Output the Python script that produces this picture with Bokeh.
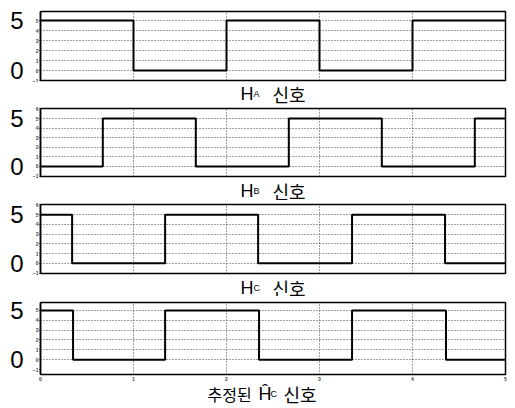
from bokeh.plotting import figure
from bokeh.layouts import column
from bokeh.models import LinearAxis, FixedTicker, Label, Range1d
from bokeh.embed import file_html
from bokeh.resources import INLINE

# ---- data ----
x_ticks = [0, 1, 2, 3, 4, 5]
x_grid = [1, 2, 3, 4]
y_ticks = [-1, 0, 1, 2, 3, 4, 5, 6]
y_grid = [0, 1, 2, 3, 4, 5]
big_ticks = [0, 5]

ha_edges = [0, 1, 2, 3, 4, 5]
ha_levels = [5, 0, 5, 0, 5]
hb_edges = [0, 0.67, 1.67, 2.67, 3.67, 4.67, 5]
hb_levels = [0, 5, 0, 5, 0, 5]
hc_edges = [0, 0.34, 1.34, 2.34, 3.35, 4.35, 5]
hc_levels = [5, 0, 5, 0, 5, 0]
hc_est_edges = [0, 0.35, 1.34, 2.35, 3.35, 4.36, 5]
hc_est_levels = [5, 0, 5, 0, 5, 0]

label_ha = [("H", 18, "Liberation Sans"), ("A", 9, "Liberation Sans"), ("신호", 18, "Noto Sans CJK KR")]
label_hb = [("H", 18, "Liberation Sans"), ("B", 9, "Liberation Sans"), ("신호", 18, "Noto Sans CJK KR")]
label_hc = [("H", 18, "Liberation Sans"), ("C", 9, "Liberation Sans"), ("신호", 18, "Noto Sans CJK KR")]
label_est = [("추정된", 16, "Noto Sans CJK KR"), ("Ĥ", 18, "Liberation Sans"), ("C", 9, "Liberation Sans"), ("신호", 18, "Noto Sans CJK KR")]

FW = 465
LB, RB = 40, 10
panels = [
    # edges, levels, yrange, label, label x-lefts (px from frame left), top, frame_h, plot bottom, caption h, baseline y in caption
    (ha_edges, ha_levels, (-1.0, 5.9), label_ha, [200, 213, 232], 11, 69, 2, 22, 11, False),
    (hb_edges, hb_levels, (-1.05, 6.05), label_hb, [200, 213, 232], 4, 68, 2, 22, 10, False),
    (hc_edges, hc_levels, (-1.05, 6.05), label_hc, [200, 213, 232], 4, 69, 2, 21, 9, False),
    (hc_est_edges, hc_est_levels, (-1.5, 5.8), label_est, [167, 218, 230, 243], 6, 72, 9, 25, 15, True),
]

figs = []
for edges, levels, yr, parts, xl, top, fh, pb, lh, base, last in panels:
    p = figure(frame_width=FW, frame_height=fh, min_border_left=LB, min_border_right=RB,
               min_border_top=top, min_border_bottom=pb,
               x_range=Range1d(0, 5), y_range=Range1d(*yr),
               output_backend="svg", toolbar_location=None)
    p.outline_line_color = "black"
    p.outline_line_width = 1.5
    p.background_fill_color = "white"
    p.border_fill_color = "white"

    # grid
    p.xgrid.ticker = FixedTicker(ticks=x_grid)
    p.ygrid.ticker = FixedTicker(ticks=y_grid)
    for g in (p.xgrid, p.ygrid):
        g.grid_line_color = "#222222"
        g.grid_line_dash = "1 2"
        g.grid_line_width = 1
        g.grid_line_alpha = 0.85

    # inner tiny y axis
    ya = p.yaxis[0]
    ya.ticker = FixedTicker(ticks=y_ticks)
    ya.major_label_text_font_size = "5px"
    ya.major_label_text_font_style = "bold"
    ya.major_label_standoff = 1
    ya.major_tick_out = 1
    ya.major_tick_in = 0
    ya.minor_tick_line_color = None
    ya.axis_line_color = "black"
    ya.axis_line_width = 1.5

    # outer big y labels
    big = LinearAxis(ticker=FixedTicker(ticks=big_ticks))
    big.major_label_text_font = "Liberation Sans"
    big.major_label_text_font_size = "24px"
    big.major_label_text_color = "black"
    big.axis_line_color = None
    big.major_tick_line_color = None
    big.minor_tick_line_color = None
    big.major_label_standoff = 0
    p.add_layout(big, "left")

    xa = p.xaxis[0]
    xa.ticker = FixedTicker(ticks=x_ticks)
    if last:
        xa.major_label_text_font_size = "5px"
        xa.major_label_text_font_style = "bold"
        xa.major_label_standoff = 2
        xa.major_tick_out = 0
        xa.major_tick_in = 0
        xa.minor_tick_line_color = None
        xa.axis_line_color = None
    else:
        xa.visible = False

    # signal
    xs = list(edges)
    ys = list(levels) + [levels[-1]]
    p.step(xs, ys, mode="after", line_color="black", line_width=2)
    figs.append(p)

    # caption figure below the panel
    c = figure(frame_width=FW, frame_height=lh, min_border_left=LB, min_border_right=RB,
               min_border_top=0, min_border_bottom=0,
               x_range=Range1d(0, 5), y_range=Range1d(0, lh),
               x_axis_location=None, y_axis_location=None,
               output_backend="svg", toolbar_location=None)
    c.outline_line_color = None
    c.xgrid.visible = False
    c.ygrid.visible = False
    c.background_fill_color = "white"
    c.border_fill_color = "white"
    for (txt, fs, font), px in zip(parts, xl):
        c.add_layout(Label(x=px * 5 / FW, y=base, text=txt, text_font=font,
                           text_font_size=f"{fs}px", text_color="black",
                           text_align="left", text_baseline="alphabetic"))
    figs.append(c)

layout = column(*figs, spacing=0)
open("out.html", "w").write(file_html(layout, INLINE))
